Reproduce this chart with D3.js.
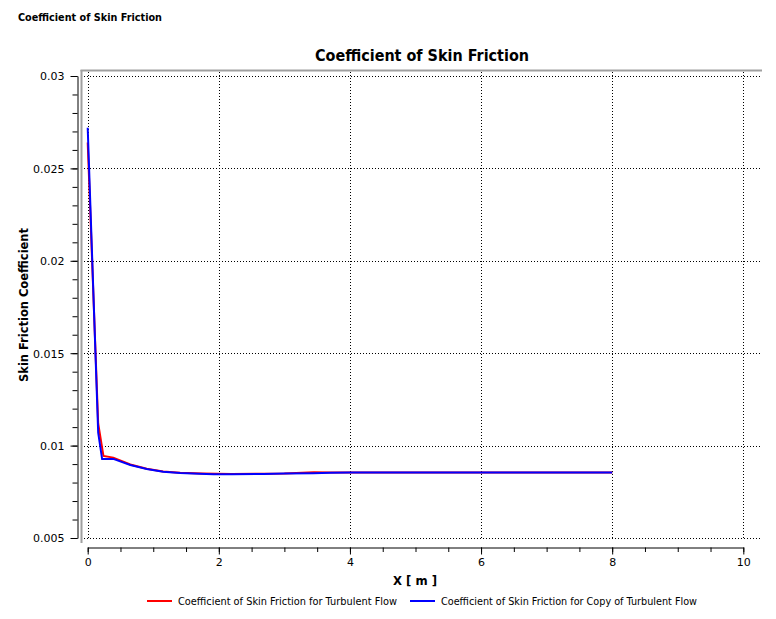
<!DOCTYPE html>
<html><head><meta charset="utf-8">
<script src="https://cdn.jsdelivr.net/npm/d3@7"></script>
<style>
body{margin:0;background:#fff;}
text{font-family:"DejaVu Sans",Verdana,sans-serif;fill:#000;}
</style></head>
<body>
<svg id="c" width="776" height="619"></svg>
<script>
// ---- data ----
const redX = [0, 0.16, 0.24, 0.39, 0.65, 0.9, 1.15, 1.41, 1.75, 2.2, 2.65, 3.0, 3.45, 3.7, 5, 6, 7, 8];
const redY = [0.0264, 0.0112, 0.00944, 0.00935, 0.00898, 0.00875, 0.0086, 0.00853, 0.00849, 0.00846, 0.00848, 0.00849, 0.00856, 0.00855, 0.00855, 0.00855, 0.00855, 0.00855];
const blueX = [0, 0.16, 0.22, 0.39, 0.65, 0.9, 1.15, 1.41, 1.7, 1.92, 2.2, 2.68, 3.0, 3.44, 3.7, 4.0, 5, 6, 7, 8];
const blueY = [0.0272, 0.0107, 0.00927, 0.00928, 0.00895, 0.00873, 0.00859, 0.00852, 0.00848, 0.00845, 0.00845, 0.00846, 0.00849, 0.00851, 0.00853, 0.00854, 0.00855, 0.00855, 0.00855, 0.00855];
const xTicks = [0, 2, 4, 6, 8, 10];
const yTicks = [0.005, 0.01, 0.015, 0.02, 0.025, 0.03];
const yTickLabels = ["0.005", "0.01", "0.015", "0.02", "0.025", "0.03"];
const seriesNames = ["Coefficient of Skin Friction for Turbulent Flow", "Coefficient of Skin Friction for Copy of Turbulent Flow"];
const seriesColors = ["#ff0000", "#0000ff"];

const svg = d3.select("#c");
const x = d3.scaleLinear().domain([0, 10]).range([87.7, 743.3]);
const y = d3.scaleLinear().domain([0.005, 0.03]).range([538, 76]);

// window title
svg.append("text").attr("x", 18).attr("y", 21).attr("font-size", 11).attr("font-weight", "bold")
  .attr("textLength", 144).attr("lengthAdjust", "spacingAndGlyphs").text("Coefficient of Skin Friction");
// chart title
svg.append("text").attr("x", 422).attr("y", 61).attr("text-anchor", "middle").attr("font-size", 16).attr("font-weight", "bold")
  .attr("textLength", 214).attr("lengthAdjust", "spacingAndGlyphs").text("Coefficient of Skin Friction");

// grid
const grid = svg.append("g").attr("stroke", "#000").attr("stroke-width", 1).attr("stroke-dasharray", "1,2");
xTicks.forEach(t => grid.append("line").attr("x1", Math.round(x(t)) + 0.5).attr("x2", Math.round(x(t)) + 0.5).attr("y1", 72).attr("y2", 539));
yTicks.forEach(t => grid.append("line").attr("y1", Math.round(y(t)) + 0.5).attr("y2", Math.round(y(t)) + 0.5).attr("x1", 84).attr("x2", 760));

// frame (top and left)
svg.append("line").attr("x1", 80.5).attr("x2", 762).attr("y1", 70.5).attr("y2", 70.5).attr("stroke", "#a0a0a0").attr("stroke-width", 2);
svg.append("line").attr("x1", 81.5).attr("x2", 81.5).attr("y1", 70).attr("y2", 543).attr("stroke", "#a0a0a0").attr("stroke-width", 2);

// lines
const line = d3.line().x(d => x(d[0])).y(d => y(d[1]));
const redData = redX.map((v, i) => [v, redY[i]]);
const blueData = blueX.map((v, i) => [v, blueY[i]]);
svg.append("path").datum(redData).attr("d", line).attr("fill", "none").attr("stroke", seriesColors[0]).attr("stroke-width", 2);
svg.append("path").datum(blueData).attr("d", line).attr("fill", "none").attr("stroke", seriesColors[1]).attr("stroke-width", 2);

// y axis
const yMinor = d3.range(5, 31).map(v => v / 1000);
const yAx = svg.append("g").attr("transform", "translate(77.5,0)");
yAx.call(d3.axisLeft(y).tickValues(yMinor).tickSize(5).tickSizeOuter(0).tickFormat(""));
yAx.call(g => g.selectAll(".tick text").remove());
const yAxMaj = svg.append("g").attr("transform", "translate(77.5,0)");
yAxMaj.call(d3.axisLeft(y).tickValues(yTicks).tickSize(7).tickSizeOuter(0).tickPadding(6)
  .tickFormat((d, i) => yTickLabels[i]));
yAxMaj.select(".domain").remove();
svg.selectAll(".tick line").attr("stroke", "#000");
yAxMaj.selectAll(".tick text").attr("font-size", 11).attr("font-family", "DejaVu Sans").attr("fill", "#000").attr("dy", "0.35em");

// x axis
const xMinor = d3.range(0, 10.01, 0.5);
const xAx = svg.append("g").attr("transform", "translate(0,547.5)");
xAx.call(d3.axisBottom(x).tickValues(xMinor).tickSize(4.5).tickSizeOuter(0).tickFormat(""));
const xAxMaj = svg.append("g").attr("transform", "translate(0,547.5)");
xAxMaj.call(d3.axisBottom(x).tickValues(xTicks).tickSize(7).tickSizeOuter(0).tickPadding(4));
xAxMaj.select(".domain").remove();
xAxMaj.selectAll(".tick text").attr("font-size", 11).attr("font-family", "DejaVu Sans").attr("fill", "#000");
svg.selectAll(".domain").attr("stroke", "#000");

// axis titles
svg.append("text").attr("x", 415).attr("y", 585).attr("text-anchor", "middle").attr("font-size", 12).attr("font-weight", "bold")
  .attr("textLength", 44).attr("lengthAdjust", "spacingAndGlyphs").text("X [ m ]");
svg.append("text").attr("transform", "translate(28,305) rotate(-90)").attr("text-anchor", "middle").attr("font-size", 12).attr("font-weight", "bold")
  .attr("textLength", 154).attr("lengthAdjust", "spacingAndGlyphs").text("Skin Friction Coefficient");

// legend
const legX = [147, 410];
const legW = [219, 256];
seriesNames.forEach((n, i) => {
  svg.append("line").attr("x1", legX[i]).attr("x2", legX[i] + 25).attr("y1", 601).attr("y2", 601).attr("stroke", seriesColors[i]).attr("stroke-width", 2);
  svg.append("text").attr("x", legX[i] + 31).attr("y", 605).attr("font-size", 11)
    .attr("textLength", legW[i]).attr("lengthAdjust", "spacingAndGlyphs").text(n);
});
</script>
</body></html>
